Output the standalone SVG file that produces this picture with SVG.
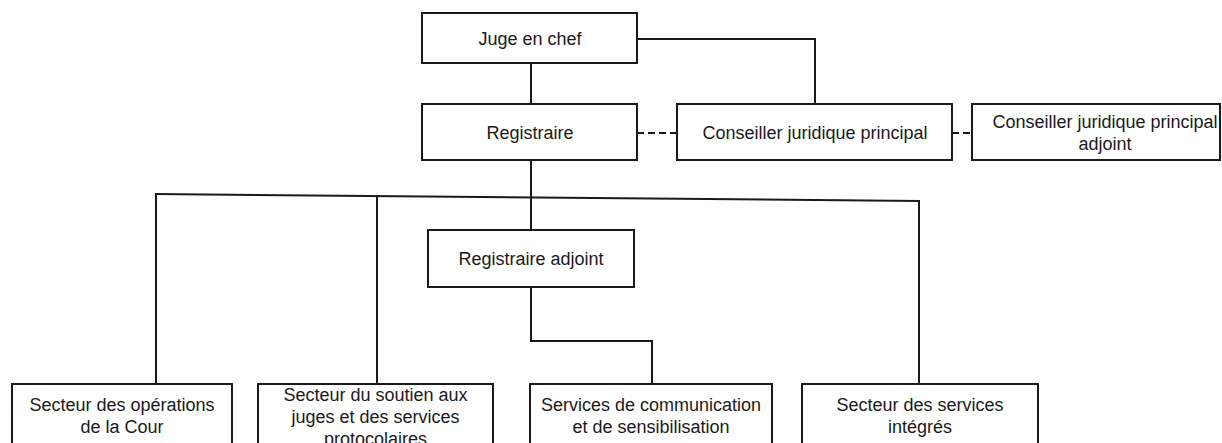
<svg xmlns="http://www.w3.org/2000/svg" width="1222" height="443" viewBox="0 0 1222 443">
<style>
.box{fill:#fff;stroke:#1a1a1a;stroke-width:2}
.ln{fill:none;stroke:#1a1a1a;stroke-width:2}
.dash{fill:none;stroke:#1a1a1a;stroke-width:2;stroke-dasharray:7 4}
text{font-family:"Liberation Sans",Arial,sans-serif;font-size:18px;fill:#1a1a1a;text-anchor:middle}
</style>
<rect width="1222" height="443" fill="#fff"/>
<g id="connectors">
<line class="ln" x1="531" y1="63" x2="531" y2="104"/>
<polyline class="ln" points="637,39 815,39 815,104"/>
<line class="dash" x1="637" y1="133" x2="677" y2="133"/>
<line class="dash" x1="952" y1="133" x2="972" y2="133"/>
<line class="ln" x1="531" y1="160" x2="531" y2="230"/>
<line class="ln" x1="155" y1="194" x2="920" y2="201"/>
<line class="ln" x1="156" y1="194" x2="156" y2="384"/>
<line class="ln" x1="377" y1="196" x2="377" y2="384"/>
<line class="ln" x1="919" y1="201" x2="919" y2="384"/>
<polyline class="ln" points="531,287 531,341 652,341 652,384"/>
</g>
<g id="juge">
<rect class="box" x="422" y="13" width="215" height="50"/>
<text x="530" y="45">Juge en chef</text>
</g>
<g id="registraire">
<rect class="box" x="422" y="104" width="215" height="56"/>
<text x="530" y="139">Registraire</text>
</g>
<g id="conseiller">
<rect class="box" x="677" y="104" width="275" height="56"/>
<text x="815" y="139">Conseiller juridique principal</text>
</g>
<g id="conseiller-adjoint">
<rect class="box" x="972" y="104" width="248" height="56"/>
<text x="1105" y="128">Conseiller juridique principal</text>
<text x="1105" y="150">adjoint</text>
</g>
<g id="registraire-adjoint">
<rect class="box" x="428" y="230" width="206" height="57"/>
<text x="531" y="265">Registraire adjoint</text>
</g>
<g id="operations">
<rect class="box" x="12" y="384" width="220" height="80"/>
<text x="122" y="411">Secteur des opérations</text>
<text x="122" y="433">de la Cour</text>
</g>
<g id="soutien">
<rect class="box" x="258" y="384" width="235" height="80"/>
<text x="375.5" y="401">Secteur du soutien aux</text>
<text x="375.5" y="423">juges et des services</text>
<text x="375.5" y="445">protocolaires</text>
</g>
<g id="communication">
<rect class="box" x="530" y="384" width="242" height="80"/>
<text x="651" y="411">Services de communication</text>
<text x="651" y="433">et de sensibilisation</text>
</g>
<g id="integres">
<rect class="box" x="802" y="384" width="236" height="80"/>
<text x="920" y="411">Secteur des services</text>
<text x="920" y="433">intégrés</text>
</g>
</svg>
